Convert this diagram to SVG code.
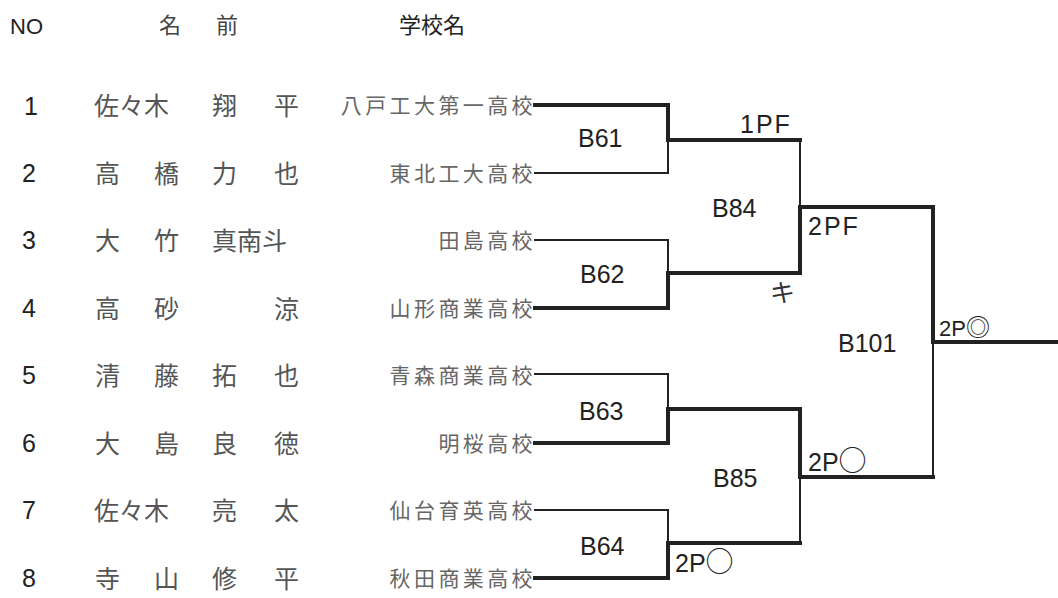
<svg xmlns="http://www.w3.org/2000/svg" width="1058" height="598" viewBox="0 0 1058 598">
<style>
.hd{font-family:"Noto Sans CJK JP","Liberation Sans",sans-serif;font-size:22px;fill:#444}
.no{font-family:"Liberation Sans","Noto Sans CJK JP",sans-serif;font-size:22px;fill:#222}
.num{font-family:"Liberation Sans",sans-serif;font-size:25px;fill:#222}
.nm{font-family:"Noto Sans CJK JP",sans-serif;font-size:25px;fill:#555}
.sc{font-family:"Noto Sans CJK JP",sans-serif;font-size:21px;fill:#666;text-anchor:end;letter-spacing:3.4px}
.lb{font-family:"Liberation Sans","Noto Sans CJK JP",sans-serif;font-size:25px;fill:#222}
.res{font-family:"Liberation Sans","Noto Sans CJK JP",sans-serif;font-size:25px;fill:#222;letter-spacing:2px}
.cj{font-family:"Noto Sans CJK JP",sans-serif}
.tk{stroke:#222;stroke-width:4;fill:none;stroke-linecap:square}
.tn{stroke:#222;stroke-width:2;fill:none;stroke-linecap:square}
</style>
<g id="header">
<text class="no" x="10" y="34">NO</text>
<text class="hd" x="159" y="33">名</text>
<text class="hd" x="216" y="33">前</text>
<text class="hd" x="399" y="33" style="fill:#222">学校名</text>
</g>
<g id="p1"><text class="num" x="24" y="115">1</text><text class="nm" y="115"><tspan x="94">佐々木</tspan><tspan x="212">翔</tspan><tspan x="274">平</tspan></text><text class="sc" x="536" y="113">八戸工大第一高校</text></g>
<g id="p2"><text class="num" x="22" y="182">2</text><text class="nm" y="183"><tspan x="95">高</tspan><tspan x="154">橋</tspan><tspan x="212">力</tspan><tspan x="274">也</tspan></text><text class="sc" x="536" y="181">東北工大高校</text></g>
<g id="p3"><text class="num" x="22" y="249">3</text><text class="nm" y="250"><tspan x="95">大</tspan><tspan x="154">竹</tspan><tspan x="212">真南斗</tspan></text><text class="sc" x="536" y="248">田島高校</text></g>
<g id="p4"><text class="num" x="22" y="317">4</text><text class="nm" y="318"><tspan x="95">高</tspan><tspan x="154">砂</tspan><tspan x="274">涼</tspan></text><text class="sc" x="536" y="316">山形商業高校</text></g>
<g id="p5"><text class="num" x="22" y="384">5</text><text class="nm" y="385"><tspan x="95">清</tspan><tspan x="154">藤</tspan><tspan x="212">拓</tspan><tspan x="274">也</tspan></text><text class="sc" x="536" y="383">青森商業高校</text></g>
<g id="p6"><text class="num" x="22" y="452">6</text><text class="nm" y="453"><tspan x="95">大</tspan><tspan x="154">島</tspan><tspan x="212">良</tspan><tspan x="274">徳</tspan></text><text class="sc" x="536" y="451">明桜高校</text></g>
<g id="p7"><text class="num" x="22" y="519">7</text><text class="nm" y="520"><tspan x="94">佐々木</tspan><tspan x="212">亮</tspan><tspan x="274">太</tspan></text><text class="sc" x="536" y="518">仙台育英高校</text></g>
<g id="p8"><text class="num" x="22" y="587">8</text><text class="nm" y="588"><tspan x="95">寺</tspan><tspan x="154">山</tspan><tspan x="212">修</tspan><tspan x="274">平</tspan></text><text class="sc" x="536" y="586">秋田商業高校</text></g>
<g id="connectors">
<path class="tk" d="M535 105H668V140"/>
<path class="tn" d="M535 173H668V140"/>
<path class="tn" d="M535 240H668V273"/>
<path class="tk" d="M535 308H668V273"/>
<path class="tn" d="M535 374H668V409"/>
<path class="tk" d="M535 443H668V409"/>
<path class="tn" d="M535 510H668V543"/>
<path class="tk" d="M535 578H668V543"/>
<path class="tk" d="M668 140H800"/>
<path class="tn" d="M800 140V207"/>
<path class="tk" d="M668 273H800V207"/>
<path class="tk" d="M668 409H800V477"/>
<path class="tn" d="M800 477V543"/>
<path class="tk" d="M668 543H800"/>
<path class="tk" d="M800 207H933V342"/>
<path class="tk" d="M800 477H933"/>
<path class="tn" d="M933 342V477"/>
<path class="tk" d="M933 342H1058"/>
</g>
<g id="B61"><text class="lb" x="578" y="147">B61</text></g>
<g id="B62"><text class="lb" x="580" y="283">B62</text></g>
<g id="B63"><text class="lb" x="579" y="420">B63</text></g>
<g id="B64"><text class="lb" x="580" y="555">B64</text></g>
<g id="B84"><text class="lb" x="712" y="217">B84</text></g>
<g id="B85"><text class="lb" x="713" y="487">B85</text></g>
<g id="B101"><text class="lb" x="838" y="352">B101</text></g>
<g id="labels">
<text class="res" x="740" y="133">1PF</text>
<text class="res" x="808" y="235">2PF</text>
<text class="nm" x="770" y="302" style="fill:#333">キ</text>
<text class="res" x="939" y="336" style="font-size:22px;letter-spacing:0">2P<tspan class="cj" style="font-size:24px">◎</tspan></text>
<text class="res" x="808" y="471" style="letter-spacing:0">2P<tspan class="cj" style="font-size:28px">○</tspan></text>
<text class="res" x="675" y="572" style="letter-spacing:0">2P<tspan class="cj" style="font-size:28px">○</tspan></text>
</g>
</svg>
